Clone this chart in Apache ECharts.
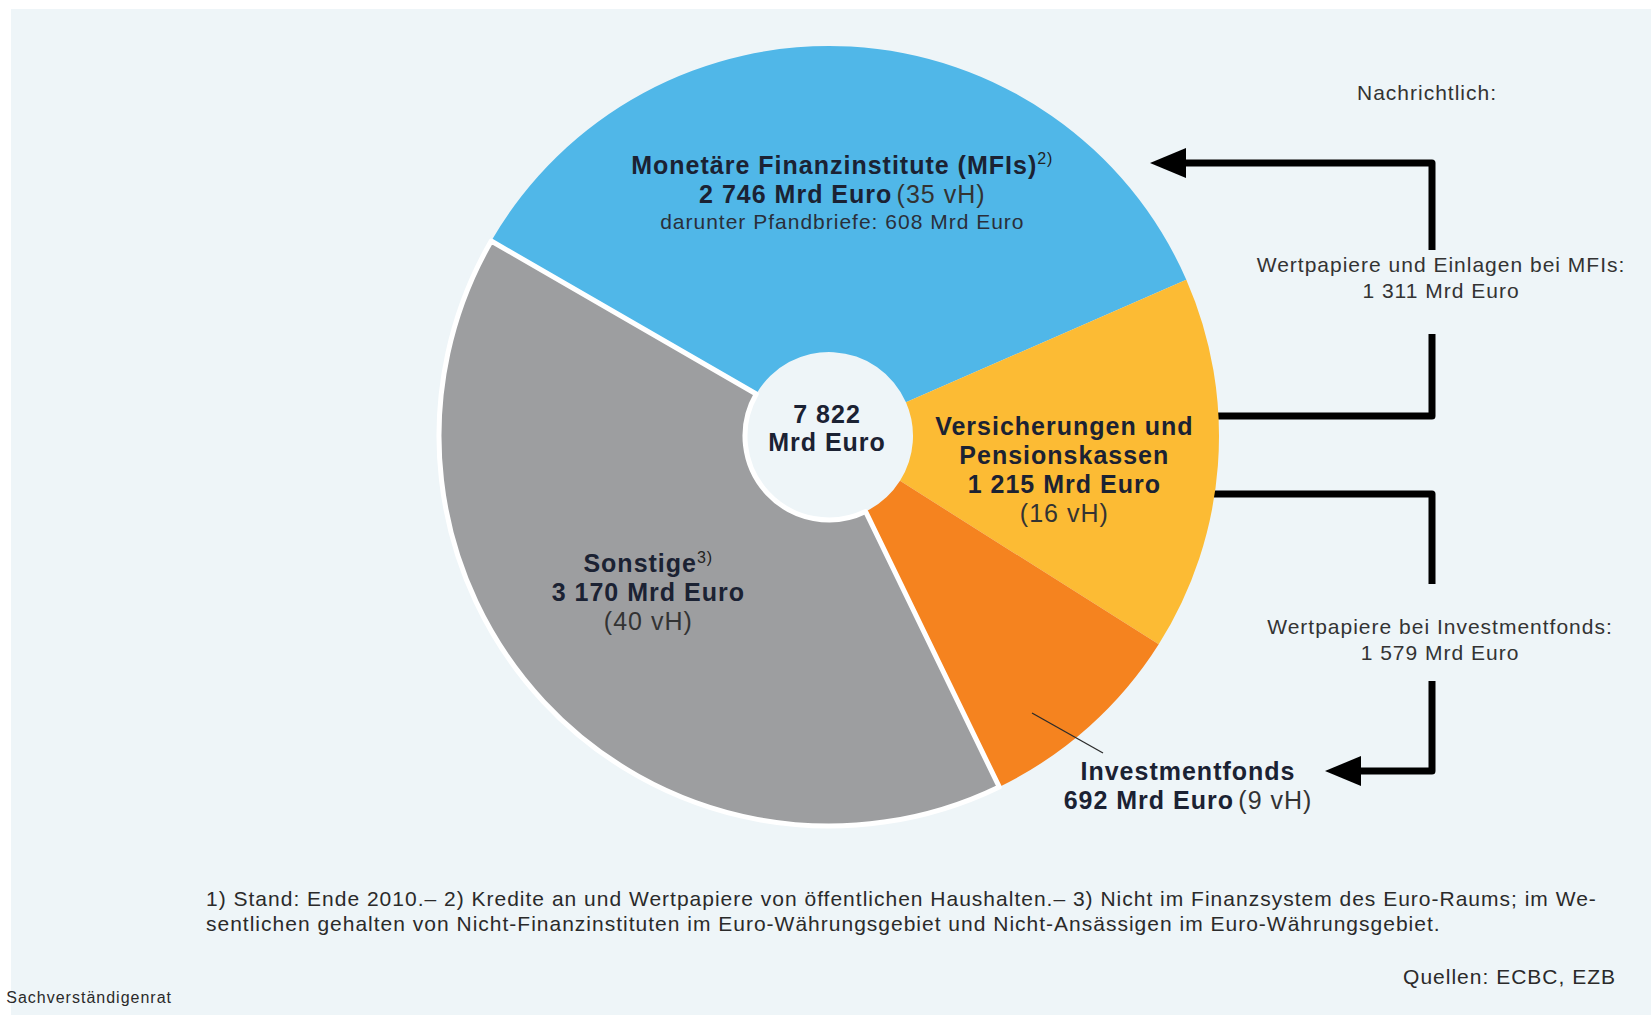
<!DOCTYPE html>
<html>
<head>
<meta charset="utf-8">
<script src="https://cdn.jsdelivr.net/npm/echarts@6.0.0/dist/echarts.min.js"></script>
<style>
  html, body { margin: 0; padding: 0; background: #ffffff; }
  #panel { position: absolute; left: 11px; top: 9px; right: 0; bottom: 0; background: #eef5f8; }
  #chart { position: absolute; left: 0; top: 0; width: 1651px; height: 1015px; }
  /* the printed original uses loosely tracked type */
  #chart text { letter-spacing: 1px; }
</style>
</head>
<body>
<div id="panel"></div>
<div id="chart"></div>
<script>
// Gläubiger der Schuldverschreibungen, Mrd Euro
const categories = ['Monetäre Finanzinstitute (MFIs)', 'Versicherungen und\nPensionskassen', 'Investmentfonds', 'Sonstige'];
const values = [2746, 1215, 692, 3170];
const shares = [35, 16, 9, 40];
const colors = ['#50b7e8', '#fcbb34', '#f5831f', '#9d9ea0'];
const totalValue = 7822;
const pfandbriefe = 608;

const memoLabels = ['Wertpapiere und Einlagen bei MFIs:', 'Wertpapiere bei Investmentfonds:'];
const memoValues = [1311, 1579];

const footnotes = [
  '1) Stand: Ende 2010.– 2) Kredite an und Wertpapiere von öffentlichen Haushalten.– 3) Nicht im Finanzsystem des Euro-Raums; im We-',
  'sentlichen gehalten von Nicht-Finanzinstituten im Euro-Währungsgebiet und Nicht-Ansässigen im Euro-Währungsgebiet.'
];
const sourceText = 'Quellen: ECBC, EZB';

const FONT = '"Liberation Sans", Arial, sans-serif';
const LETTER_SPACING = 1;
const CX = 829, CY = 436, R0 = 84, R = 390;

// text widths must include the css letter-spacing so rich labels line up
const measureCtx = document.createElement('canvas').getContext('2d');
if (echarts.setPlatformAPI) {
  echarts.setPlatformAPI({
    measureText: function (text, font) {
      measureCtx.font = font || '12px sans-serif';
      const m = measureCtx.measureText(text);
      return {
        width: m.width + LETTER_SPACING * Array.from(text).length,
        actualBoundingBoxAscent: m.actualBoundingBoxAscent,
        actualBoundingBoxDescent: m.actualBoundingBoxDescent,
        actualBoundingBoxLeft: m.actualBoundingBoxLeft,
        actualBoundingBoxRight: m.actualBoundingBoxRight
      };
    }
  });
}

const fmt = v => String(v).replace(/\B(?=(\d{3})+(?!\d))/g, ' ');

function bold(text) {
  return text.split('\n').map(t => '{b|' + t + '}').join('\n');
}

const labelTexts = [
  bold(categories[0]) + '{sup|2)}\n{b|' + fmt(values[0]) + ' Mrd Euro} {r|(' + shares[0] + ' vH)}\n{s|darunter Pfandbriefe: ' + fmt(pfandbriefe) + ' Mrd Euro}',
  bold(categories[1]) + '\n{b|' + fmt(values[1]) + ' Mrd Euro}\n{r|(' + shares[1] + ' vH)}',
  bold(categories[2]) + '\n{b|' + fmt(values[2]) + ' Mrd Euro} {r|(' + shares[2] + ' vH)}',
  bold(categories[3]) + '{sup|3)}\n{b|' + fmt(values[3]) + ' Mrd Euro}\n{r|(' + shares[3] + ' vH)}'
];

const rich = {
  b: { fontFamily: FONT, fontSize: 25, fontWeight: 'bold', color: '#1b2233', lineHeight: 29 },
  r: { fontFamily: FONT, fontSize: 25, color: '#333333', lineHeight: 29 },
  s: { fontFamily: FONT, fontSize: 21, color: '#2a2f3a', lineHeight: 26 },
  sup: { fontFamily: FONT, fontSize: 16, color: '#222', lineHeight: 16, verticalAlign: 'top' }
};

const chart = echarts.init(document.getElementById('chart'), null, { renderer: 'svg' });

const pieData = values.map((v, i) => {
  const item = {
    name: categories[i],
    value: v,
    itemStyle: { color: colors[i] },
    label: { formatter: labelTexts[i] }
  };
  if (i === 3) {
    item.itemStyle.borderColor = '#ffffff';
    item.itemStyle.borderWidth = 5;
  }
  if (i === 2) {
    item.label.position = 'outside';
  }
  return item;
});

// offsets to fine-tune label placement
const labelOffsets = [[0, -4], [-4, 15], null, [-5, -7]];

function arrowHead(tipX, tipY) {
  return {
    type: 'polygon',
    shape: { points: [[tipX, tipY], [tipX + 36, tipY - 15], [tipX + 36, tipY + 15]] },
    style: { fill: '#000' }
  };
}

function bracket(points) {
  return {
    type: 'polyline',
    shape: { points: points },
    style: { stroke: '#000', lineWidth: 7, fill: null, lineJoin: 'round' }
  };
}

function txt(x, y, text, size, opts) {
  return {
    type: 'text',
    x: x,
    y: y,
    style: Object.assign({
      text: text,
      fontFamily: FONT,
      fontSize: size,
      fill: '#333',
      align: 'center',
      verticalAlign: 'middle'
    }, opts || {})
  };
}

const option = {
  backgroundColor: 'transparent',
  animation: false,
  series: [{
    type: 'pie',
    center: [CX, CY],
    radius: [R0, R],
    startAngle: 150,
    clockwise: true,
    avoidLabelOverlap: false,
    emphasis: { disabled: true },
    label: {
      show: true,
      position: 'inside',
      align: 'center',
      overflow: 'none',
      rich: rich
    },
    labelLine: { show: false },
    labelLayout: function (params) {
      const i = params.dataIndex;
      if (i === 2) {
        return { x: 1188, y: 785, align: 'center', verticalAlign: 'middle' };
      }
      const o = labelOffsets[i];
      return o ? { dx: o[0], dy: o[1] } : {};
    },
    data: pieData
  }],
  graphic: [
    txt(CX - 2, CY - 8, '{c|' + fmt(totalValue) + '}\n{c|Mrd Euro}', 25, {
      rich: { c: { fontFamily: FONT, fontSize: 25, fontWeight: 'bold', fill: '#1b2233', lineHeight: 28 } }
    }),
    // leader line of the Investmentfonds label
    {
      type: 'line',
      z: 100,
      shape: { x1: 1032, y1: 713, x2: 1103, y2: 753 },
      style: { stroke: '#2b2b2b', lineWidth: 1.3 }
    },
    txt(1427, 92, 'Nachrichtlich:', 21),
    bracket([[1180, 163], [1432, 163], [1432, 250]]),
    arrowHead(1150, 163),
    txt(1441, 277, memoLabels[0] + '\n' + fmt(memoValues[0]) + ' Mrd Euro', 21, { lineHeight: 26 }),
    bracket([[1432, 334], [1432, 416], [1218, 416]]),
    bracket([[1214, 494], [1432, 494], [1432, 584]]),
    txt(1440, 639, memoLabels[1] + '\n' + fmt(memoValues[1]) + ' Mrd Euro', 21, { lineHeight: 26 }),
    bracket([[1432, 681], [1432, 771], [1355, 771]]),
    arrowHead(1325, 771),
    txt(206, 898, footnotes[0], 21, { align: 'left', fill: '#2a2a2a' }),
    txt(206, 923, footnotes[1], 21, { align: 'left', fill: '#2a2a2a' }),
    txt(1616, 976, sourceText, 21, { align: 'right', fill: '#2a2a2a' }),
    txt(172, 997, 'Sachverständigenrat', 16, { align: 'right', fill: '#2a2a2a' })
  ]
};

chart.setOption(option);
window.addEventListener('resize', () => chart.resize());
</script>
</body>
</html>
